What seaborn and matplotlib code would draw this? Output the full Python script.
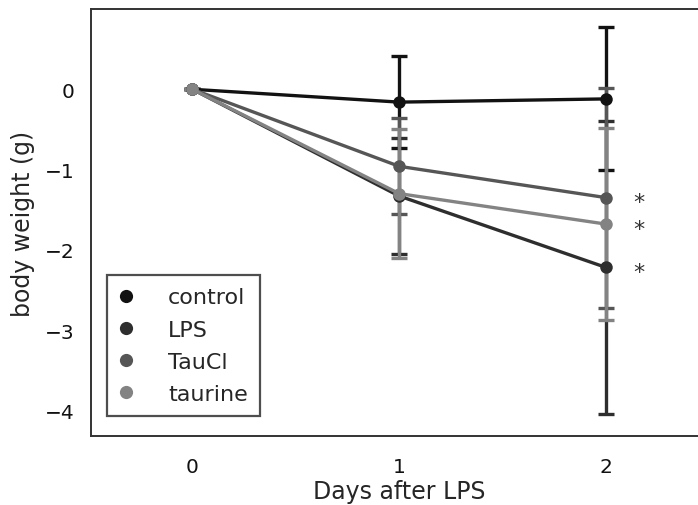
import matplotlib
matplotlib.use("Agg")
import matplotlib.pyplot as plt
from matplotlib.lines import Line2D
import seaborn as sns
import pandas as pd

days = [0, 1, 2]
groups = ["control", "LPS", "TauCl", "taurine"]
control_mean = [0.0, -0.16, -0.12]
control_err = [0.0, 0.57, 0.89]
lps_mean = [0.0, -1.33, -2.22]
lps_err = [0.0, 0.72, 1.83]
taucl_mean = [0.0, -0.96, -1.35]
taucl_err = [0.0, 0.60, 1.37]
taurine_mean = [0.0, -1.30, -1.68]
taurine_err = [0.0, 0.80, 1.20]
colors = ["#121212", "#2e2e2e", "#565656", "#838383"]
star_groups = ["TauCl", "taurine", "LPS"]

means = {"control": control_mean, "LPS": lps_mean, "TauCl": taucl_mean, "taurine": taurine_mean}
errs = {"control": control_err, "LPS": lps_err, "TauCl": taucl_err, "taurine": taurine_err}

rows = []
for g in groups:
    for d, m, e in zip(days, means[g], errs[g]):
        rows.append({"day": d, "weight": m, "err": e, "group": g})
df = pd.DataFrame(rows)

sns.set_style("white")
plt.rcParams["font.family"] = ["DejaVu Sans"]

fig = plt.figure(figsize=(6.98, 5.06), dpi=100)
ax = fig.add_axes([0.1304, 0.1364, 0.883, 0.8438])

palette = dict(zip(groups, colors))
for g in groups:
    sub = df[df["group"] == g]
    ax.errorbar(sub["day"], sub["weight"], yerr=sub["err"], fmt="none",
                ecolor=palette[g], elinewidth=2.4, capsize=6, capthick=2.4, zorder=2)

sns.lineplot(data=df, x="day", y="weight", hue="group", hue_order=groups,
             palette=palette, marker="o", markersize=9, markeredgewidth=0,
             linewidth=2.4, ax=ax, legend=False, zorder=3)

for g in star_groups:
    ax.text(days[-1] + 0.16, means[g][-1] - 0.06, "*", color="#333333", fontsize=16,
            ha="center", va="center")

ax.set_xlim(-0.49, 2.49)
ax.set_ylim(-4.32, 1.0)
ax.set_xticks(days)
ax.set_xticklabels([str(d) for d in days])
ax.set_yticks([0, -1, -2, -3, -4])
ax.set_yticklabels(["0", "\u22121", "\u22122", "\u22123", "\u22124"])
ax.tick_params(axis="both", length=0, labelsize=14.5, colors="#111111")
ax.tick_params(axis="y", pad=12)
ax.tick_params(axis="x", pad=15)
ax.set_xlabel("Days after LPS", fontsize=17, labelpad=2)
ax.set_ylabel("body weight (g)", fontsize=17, labelpad=7)
for s in ax.spines.values():
    s.set_color("#333333")
    s.set_linewidth(1.4)

handles = [Line2D([], [], linestyle="none", marker="o", markersize=9.5,
                  markerfacecolor=c, markeredgewidth=0) for c in colors]
leg = ax.legend(handles, groups, loc="lower left", bbox_to_anchor=(0.026, 0.046),
                fontsize=16, frameon=True, fancybox=False, handletextpad=1.6,
                labelspacing=0.55, borderpad=0.55, handlelength=0.6,
                borderaxespad=0.0)
leg.get_frame().set_edgecolor("#222222")
leg.get_frame().set_linewidth(1.6)

fig.savefig("out.png", dpi=100)
